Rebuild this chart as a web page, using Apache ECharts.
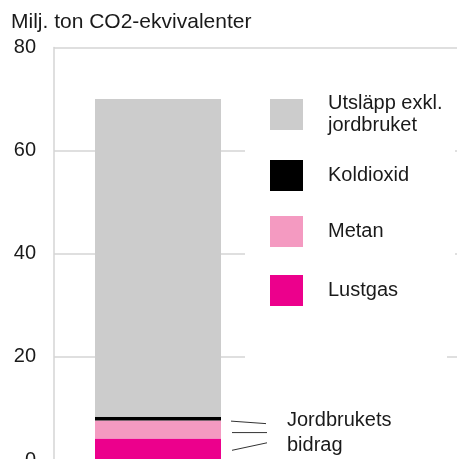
<!DOCTYPE html>
<html>
<head>
<meta charset="utf-8">
<script src="https://cdn.jsdelivr.net/npm/echarts@6/dist/echarts.min.js"></script>
<style>
html,body{margin:0;padding:0;background:#fff;}
#chart{width:457px;height:459px;}
</style>
</head>
<body>
<div id="chart"></div>
<script>
// ---- data ----
var categories = ['', ''];
var seriesNames = ['Utsläpp exkl.\njordbruket', 'Koldioxid', 'Metan', 'Lustgas'];
var lustgas = [4.15, null];
var metan = [3.5, null];
var koldioxid = [0.75, null];
var utslappExkl = [61.6, null];
var yTicks = [0, 20, 40, 60, 80];
var titleText = 'Milj. ton CO2-ekvivalenter';
var annotationText = 'Jordbrukets\nbidrag';

var FONT = '"Liberation Sans", Arial, Helvetica, sans-serif';
var colors = {gray: '#cccccc', black: '#000000', pink: '#f49ac1', magenta: '#ec008c'};

var chart = echarts.init(document.getElementById('chart'), null, {renderer: 'canvas'});

function legendAt(name, top, padTop) {
  return {
    data: [name],
    orient: 'vertical',
    left: 270,
    top: top,
    padding: 0,
    itemWidth: 33,
    itemHeight: 31,
    icon: 'rect',
    selectedMode: false,
    z: 6,
    textStyle: {fontFamily: FONT, fontSize: 20, color: '#1a1a1a', lineHeight: 22, padding: [padTop, 0, 0, 20]}
  };
}

var option = {
  animation: false,
  backgroundColor: '#fff',
  title: {
    text: titleText,
    left: 11,
    top: 11.5,
    padding: 0,
    textStyle: {fontFamily: FONT, fontSize: 21, fontWeight: 'normal', color: '#1a1a1a'}
  },
  legend: [
    legendAt(seriesNames[0], 88.5, 8),
    legendAt(seriesNames[1], 160, 5),
    legendAt(seriesNames[2], 216, 2),
    legendAt(seriesNames[3], 275, 3)
  ],
  grid: {left: 54, right: -13, top: 47.5, height: 412.5, containLabel: false, outerBoundsMode: 'none'},
  xAxis: {
    type: 'category',
    data: categories,
    axisLine: {show: false},
    axisTick: {show: false},
    axisLabel: {show: false},
    splitLine: {show: false}
  },
  yAxis: {
    type: 'value',
    min: yTicks[0],
    max: yTicks[yTicks.length - 1],
    interval: yTicks[1] - yTicks[0],
    axisLine: {show: true, lineStyle: {color: '#d4d4d4', width: 1.5}},
    axisTick: {show: false},
    splitLine: {show: true, lineStyle: {color: '#d4d4d4', width: 1.5}},
    axisLabel: {margin: 18, fontFamily: FONT, fontSize: 20, color: '#1a1a1a'}
  },
  series: [
    {name: seriesNames[3], type: 'bar', stack: 'a', data: lustgas, barWidth: 126, itemStyle: {color: colors.magenta}, z: 2},
    {name: seriesNames[2], type: 'bar', stack: 'a', data: metan, barWidth: 126, itemStyle: {color: colors.pink}, z: 2},
    {name: seriesNames[1], type: 'bar', stack: 'a', data: koldioxid, barWidth: 126, itemStyle: {color: colors.black}, z: 2},
    {name: seriesNames[0], type: 'bar', stack: 'a', data: utslappExkl, barWidth: 126, itemStyle: {color: colors.gray}, z: 2}
  ]
};
chart.setOption(option);

// annotation callouts, anchored to the stacked segments via the axis scale
function py(v) { return chart.convertToPixel({yAxisIndex: 0}, v); }
var b1 = lustgas[0], b2 = b1 + metan[0], b3 = b2 + koldioxid[0];
var yBlack = py((b2 + b3) / 2) + 2.5;
var yPink = py((b1 + b2) / 2) + 3;
var yMag = py(b1 / 2) + 1;
var lineStyle = {stroke: '#333', lineWidth: 1};
chart.setOption({
  graphic: [
    {type: 'rect', shape: {x: 245, y: 84, width: 210, height: 250}, style: {fill: '#fff'}, z: 1, silent: true},
    {type: 'rect', shape: {x: 245, y: 334, width: 202, height: 40}, style: {fill: '#fff'}, z: 1, silent: true},
    {type: 'line', shape: {x1: 231, y1: yBlack, x2: 266, y2: yBlack + 2.5}, style: lineStyle, z: 5},
    {type: 'line', shape: {x1: 232, y1: yPink, x2: 267, y2: yPink}, style: lineStyle, z: 5},
    {type: 'line', shape: {x1: 232, y1: yMag, x2: 267, y2: yMag - 7.5}, style: lineStyle, z: 5},
    {type: 'text', left: 287, top: 408, z: 5,
      style: {text: annotationText, font: '20px ' + FONT, fill: '#1a1a1a', lineHeight: 25}}
  ]
});
</script>
</body>
</html>
